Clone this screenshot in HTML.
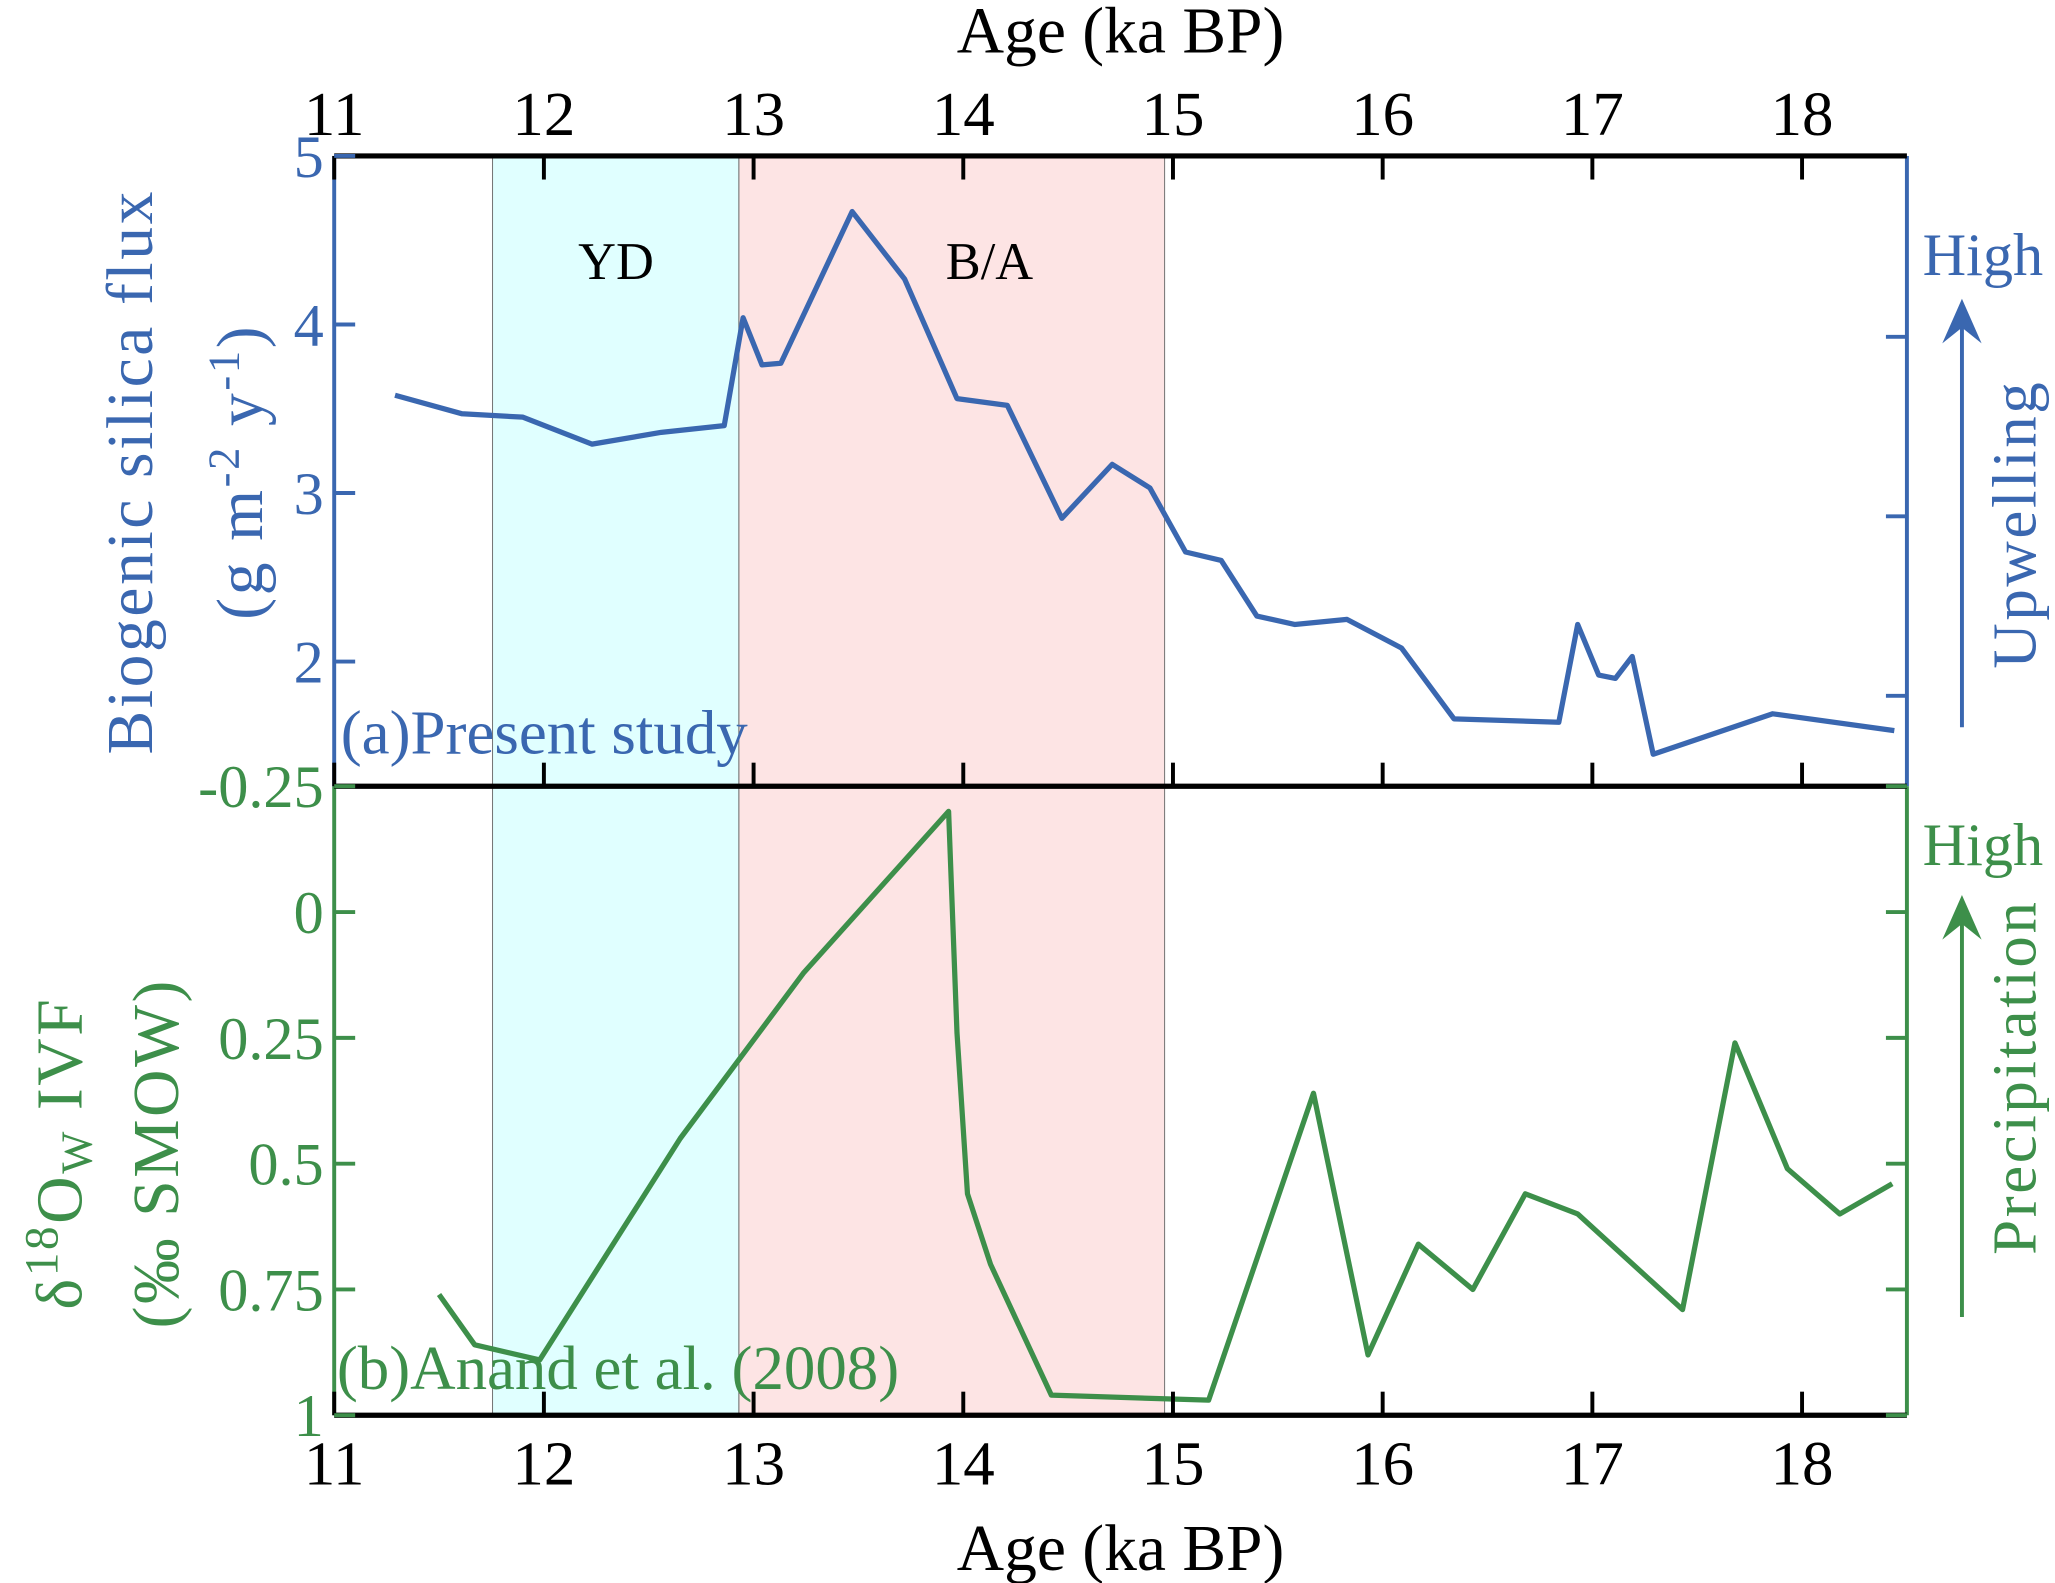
<!DOCTYPE html>
<html><head><meta charset="utf-8"><style>html,body{margin:0;padding:0;background:#fff}svg{display:block}svg text{font-family:"Liberation Serif","Times New Roman",serif}</style></head>
<body>
<svg width="2055" height="1583" viewBox="0 0 1568 1208" preserveAspectRatio="none" xmlns="http://www.w3.org/2000/svg">
<g id="g"></g>
</svg>
<script>
const ages = [11,12,13,14,15,16,17,18];
const silicaAge = [11.29,11.61,11.90,12.23,12.56,12.86,12.95,13.04,13.13,13.47,13.72,13.97,14.21,14.47,14.71,14.89,15.06,15.23,15.40,15.58,15.83,16.09,16.34,16.84,16.93,17.03,17.11,17.19,17.29,17.86,18.44];
const silicaVal = [3.58,3.47,3.45,3.29,3.36,3.40,4.04,3.76,3.77,4.67,4.27,3.56,3.52,2.85,3.17,3.03,2.65,2.60,2.27,2.22,2.25,2.08,1.66,1.64,2.22,1.92,1.90,2.03,1.45,1.69,1.59];
const d18Age = [11.50,11.67,11.98,12.65,13.24,13.93,13.97,14.02,14.13,14.42,15.17,15.67,15.93,16.17,16.43,16.68,16.93,17.43,17.68,17.93,18.18,18.43];
const d18Val = [0.76,0.86,0.89,0.45,0.12,-0.20,0.24,0.56,0.70,0.96,0.97,0.36,0.88,0.66,0.75,0.56,0.60,0.79,0.26,0.51,0.60,0.54];
const silicaTicks = [5,4,3,2];
const d18Ticks = ["-0.25","0","0.25","0.5","0.75","1"];
const periods = [{name:"YD",a:11.755,b:12.93,c:"#e0ffff"},{name:"B/A",a:12.93,b:14.96,c:"#fde4e4"}];

const L=255,R=1455,T=119,M=600,B=1080;
const BLUE="#3a67b0",GREEN="#3d8f4a";
const X=a=>L+(a-11)/(18.5-11)*(R-L);
const Y1=v=>T+(5-v)/(5-1.26)*(M-T);
const Y2=v=>M+(v+0.25)/1.25*(B-M);
const g=document.getElementById('g');
function el(t,at,txt){const e=document.createElementNS("http://www.w3.org/2000/svg",t);for(const k in at)e.setAttribute(k,at[k]);if(txt!==undefined)e.textContent=txt;g.appendChild(e);return e;}

periods.forEach(p=>{
 const r=el('rect',{x:X(p.a),y:T,width:X(p.b)-X(p.a),height:B-T,fill:p.c,stroke:"#777","stroke-width":0.8});
 
 
});
let t=el('text',{x:470,y:213,"font-size":40,"text-anchor":"middle"},"YD");

t=el('text',{x:755,y:213,"font-size":40,"text-anchor":"middle"},"B/A");


let pts=silicaAge.map((a,i)=>X(a)+","+Y1(silicaVal[i])).join(" ");
let s=el('polyline',{points:pts,fill:"none",stroke:BLUE,"stroke-width":4,"stroke-linejoin":"round"});

pts=d18Age.map((a,i)=>X(a)+","+Y2(d18Val[i])).join(" ");
s=el('polyline',{points:pts,fill:"none",stroke:GREEN,"stroke-width":4,"stroke-linejoin":"round"});


el('line',{x1:L,y1:T,x2:L,y2:M,stroke:BLUE,"stroke-width":3});
el('line',{x1:R,y1:T,x2:R,y2:M,stroke:BLUE,"stroke-width":3});
el('line',{x1:L,y1:M,x2:L,y2:B,stroke:GREEN,"stroke-width":3});
el('line',{x1:R,y1:M,x2:R,y2:B,stroke:GREEN,"stroke-width":3});
[T,M,B].forEach(y=>el('line',{x1:L,y1:y,x2:R,y2:y,stroke:"#000","stroke-width":4}));

ages.forEach(a=>{
 el('line',{x1:X(a),y1:T,x2:X(a),y2:T+18,stroke:"#000","stroke-width":3});
 el('line',{x1:X(a),y1:M,x2:X(a),y2:M-18,stroke:"#000","stroke-width":3});
 el('line',{x1:X(a),y1:B,x2:X(a),y2:B-18,stroke:"#000","stroke-width":3});
 let tt=el('text',{x:X(a),y:103,"font-size":48,"text-anchor":"middle"},a);
 
 tt=el('text',{x:X(a),y:1133,"font-size":48,"text-anchor":"middle"},a);
 
});
silicaTicks.forEach(v=>{
 el('line',{x1:L,y1:Y1(v),x2:L+16,y2:Y1(v),stroke:BLUE,"stroke-width":3});
 const tt=el('text',{x:L-8,y:Y1(v)+16,"font-size":46,"text-anchor":"end",fill:BLUE},v);
 
});
[257,394,531].forEach(y=>el('line',{x1:R,y1:y,x2:R-16,y2:y,stroke:BLUE,"stroke-width":3}));
d18Ticks.forEach(v=>{
 const y=Y2(parseFloat(v));
 el('line',{x1:L,y1:y,x2:L+16,y2:y,stroke:GREEN,"stroke-width":3});
 el('line',{x1:R,y1:y,x2:R-16,y2:y,stroke:GREEN,"stroke-width":3});
 const tt=el('text',{x:L-8,y:y+16,"font-size":46,"text-anchor":"end",fill:GREEN},v);
 
});

t=el('text',{x:855,y:40,"font-size":50,"text-anchor":"middle"},"Age (ka BP)");

t=el('text',{x:855,y:1198,"font-size":50,"text-anchor":"middle"},"Age (ka BP)");


t=el('text',{x:0,y:0,"font-size":50,"text-anchor":"middle",fill:BLUE,transform:"translate(116,360) rotate(-90)","letter-spacing":"2"},"Biogenic silica flux");

t=el('text',{x:0,y:0,"font-size":50,"text-anchor":"middle",fill:BLUE,transform:"translate(200,360) rotate(-90)","letter-spacing":"2"});
t.innerHTML='(g m<tspan dy="-18" font-size="34">-2</tspan><tspan dy="18"> y</tspan><tspan dy="-18" font-size="34">-1</tspan><tspan dy="18">)</tspan>';

t=el('text',{x:0,y:0,"font-size":50,"text-anchor":"middle",fill:GREEN,transform:"translate(62,880) rotate(-90)","letter-spacing":"2"});
t.innerHTML='δ<tspan dy="-18" font-size="36">18</tspan><tspan dy="18">O</tspan><tspan dy="8" font-size="34">W</tspan><tspan dy="-8"> IVF</tspan>';

t=el('text',{x:0,y:0,"font-size":50,"text-anchor":"middle",fill:GREEN,transform:"translate(136,880) rotate(-90)","letter-spacing":"2"},"(‰ SMOW)");


t=el('text',{x:260,y:575,"font-size":48,fill:BLUE},"(a)Present study");

t=el('text',{x:257,y:1060,"font-size":48,fill:GREEN},"(b)Anand et al. (2008)");


t=el('text',{x:1513,y:210,"font-size":46,"text-anchor":"middle",fill:BLUE},"High");

el('line',{x1:1497,y1:555,x2:1497,y2:235,stroke:BLUE,"stroke-width":3});
el('polygon',{points:"1497,228 1482,262 1497,250 1512,262",fill:BLUE});
t=el('text',{x:0,y:0,"font-size":48,"text-anchor":"middle",fill:BLUE,transform:"translate(1553,400) rotate(-90)","letter-spacing":"2"},"Upwelling");

t=el('text',{x:1513,y:660,"font-size":46,"text-anchor":"middle",fill:GREEN},"High");

el('line',{x1:1497,y1:1005,x2:1497,y2:690,stroke:GREEN,"stroke-width":3});
el('polygon',{points:"1497,683 1482,717 1497,705 1512,717",fill:GREEN});
t=el('text',{x:0,y:0,"font-size":48,"text-anchor":"middle",fill:GREEN,transform:"translate(1553,822) rotate(-90)","letter-spacing":"2"},"Precipitation");

</script>
</body></html>
